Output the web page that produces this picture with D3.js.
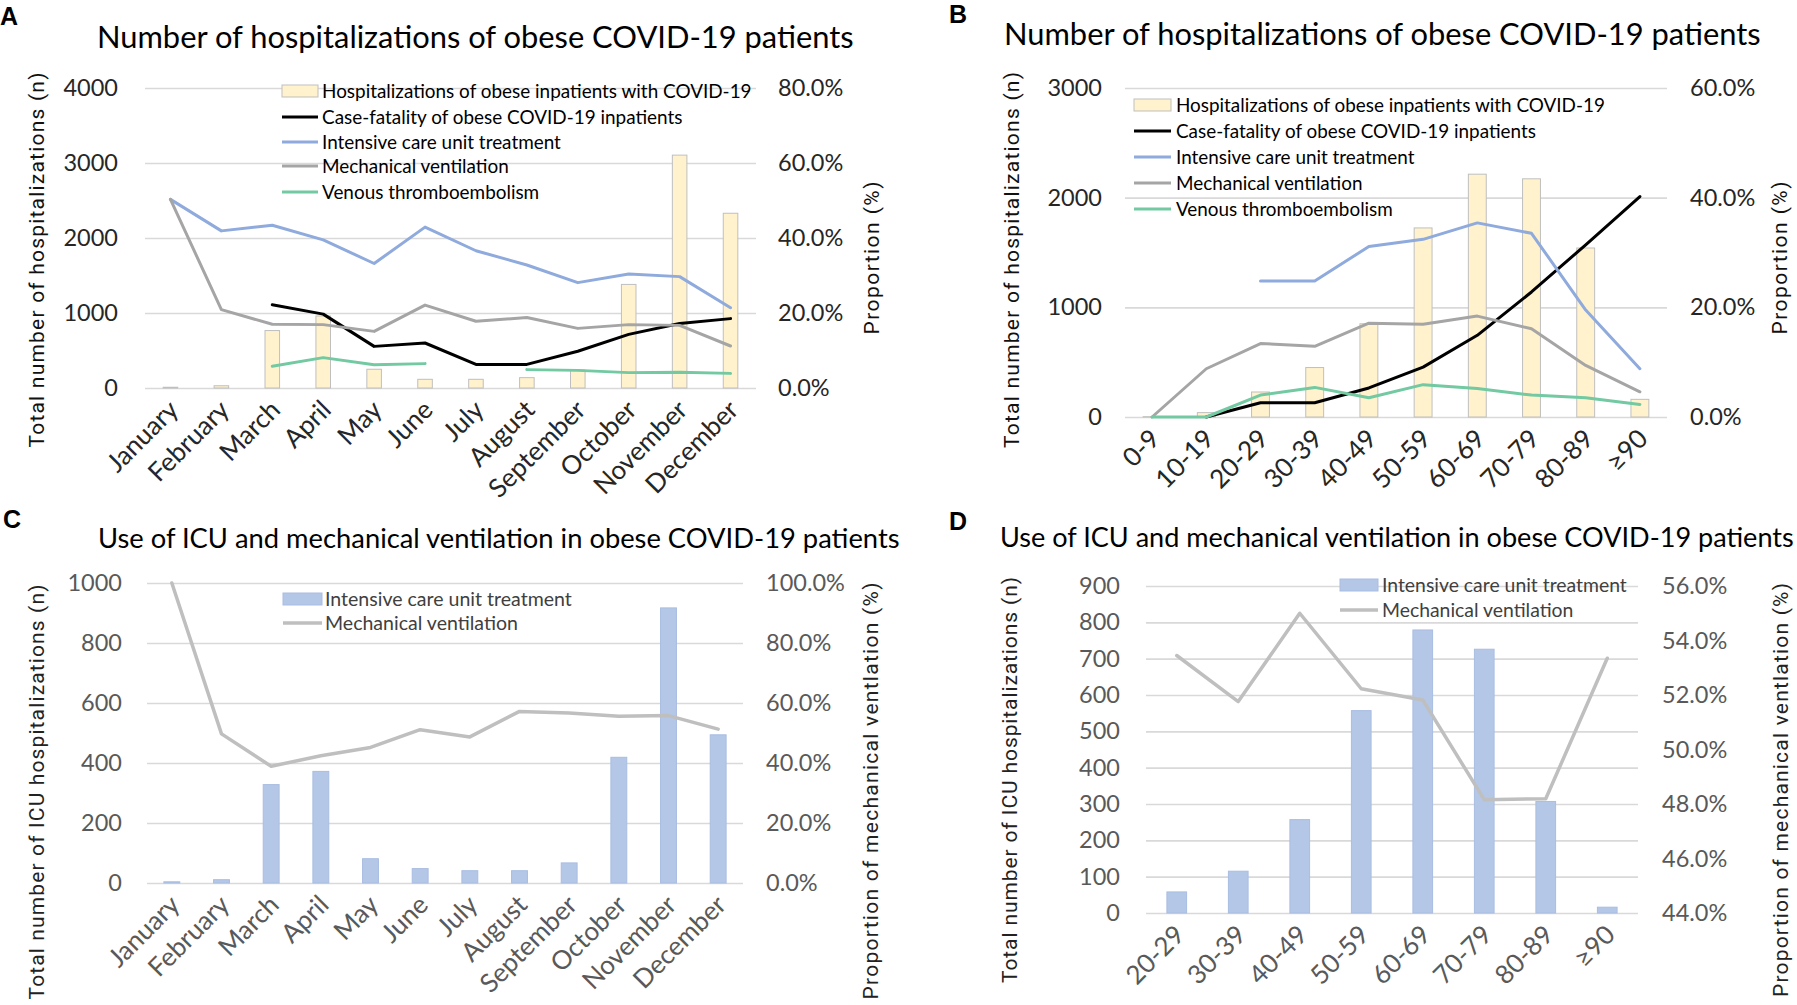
<!DOCTYPE html>
<html>
<head>
<meta charset="utf-8">
<script src="https://cdn.jsdelivr.net/npm/d3@7"></script>
<style>
	body { margin: 0; background: #fff; }
	svg { display: block; }
</style>
</head>
<body>
<div id="chart"></div>
<script>
// ---- data ----
var months = ["January", "February", "March", "April", "May", "June", "July",
	"August", "September", "October", "November", "December"];
var ageGroups = ["0-9", "10-19", "20-29", "30-39", "40-49", "50-59", "60-69", "70-79", "80-89", "\u226590"];
var ageGroupsIcu = ["20-29", "30-39", "40-49", "50-59", "60-69", "70-79", "80-89", "\u226590"];

// panel A: by month (bars = n, lines = %)
var monthHosp = [10, 30, 766, 960, 250, 116, 116, 138, 240, 1381, 3105, 2330];
var monthFatality = [null, null, 22.2, 19.7, 11.1, 12.0, 6.3, 6.3, 9.8, 14.3, 17.2, 18.5];
var monthIcu = [50.3, 41.9, 43.4, 39.5, 33.2, 42.9, 36.6, 32.8, 28.1, 30.4, 29.7, 21.4];
var monthMv = [50.3, 20.9, 17.0, 16.9, 15.1, 22.1, 17.8, 18.8, 15.9, 16.9, 16.7, 11.2];
var monthVte = [null, null, 5.8, 8.1, 6.2, 6.5, null, 4.9, 4.7, 4.1, 4.2, 3.9];

// panel B: by age group
var ageHosp = [3, 40, 228, 451, 850, 1724, 2214, 2172, 1541, 161];
var ageFatality = [null, 0, 2.6, 2.6, 5.3, 9.1, 14.9, 22.8, 31.4, 40.2];
var ageIcu = [null, null, 24.8, 24.8, 31.1, 32.4, 35.4, 33.5, 19.5, 8.8];
var ageMv = [0, 8.8, 13.4, 12.9, 17.1, 16.9, 18.4, 16.1, 9.4, 4.6];
var ageVte = [0, 0, 4.0, 5.4, 3.5, 5.9, 5.2, 4.0, 3.5, 2.3];

// panel C: ICU by month
var monthIcuCount = [4, 11, 328, 372, 81, 48, 41, 41, 67, 419, 917, 494];
var monthMvShare = [100, 49.7, 38.9, 42.4, 45.2, 51.1, 48.7, 57.2, 56.7, 55.6, 55.8, 51.3];

// panel D: ICU by age group
var ageIcuCount = [58, 115, 257, 557, 779, 726, 307, 16];
var ageMvShare = [53.45, 51.76, 55.0, 52.23, 51.82, 48.16, 48.19, 53.35];

// tick values
var ticksA = [0, 1000, 2000, 3000, 4000];
var ticksAR = [0, 20, 40, 60, 80];
var ticksB = [0, 1000, 2000, 3000];
var ticksBR = [0, 20, 40, 60];
var ticksC = [0, 200, 400, 600, 800, 1000];
var ticksCR = [0, 20, 40, 60, 80, 100];
var ticksD = [0, 100, 200, 300, 400, 500, 600, 700, 800, 900];
var ticksDR = [44, 46, 48, 50, 52, 54, 56];

// ---- styles ----
var FONT = "Lato, Carlito, 'Liberation Sans', sans-serif";
var TITLE_FONT = "Roboto, 'Noto Sans', sans-serif";
var col = {
	yellow: "#fff2cc",
	barEdge: "#bfbfbf",
	black: "#000000",
	blue: "#8faadc",
	gray: "#a5a5a5",
	green: "#72c9a2",
	icuBar: "#b4c7e7",
	lightGray: "#bfbfbf",
	grid: "#d9d9d9"
};

var svg = d3.select("#chart").append("svg")
	.attr("width", 1797)
	.attr("height", 1005)
	.style("font-family", FONT);

// scale the font of a text element so that its width hits a target
function fitText(sel, target) {
	var fs = parseFloat(sel.style("font-size"));
	var w = sel.node().getComputedTextLength();
	var nfs = fs * target / w;
	sel.style("font-size", nfs + "px");
	return nfs;
}

// keep the font size if possible and spread the letters to the target length
function spreadText(sel, target) {
	var w = sel.node().getComputedTextLength();
	if(w > target) {
		fitText(sel, target);
	} else {
		sel.attr("textLength", target).attr("lengthAdjust", "spacing");
	}
}

function drawPanel(p) {
	var g = svg.append("g");

	var x = d3.scaleBand()
		.domain(p.categories)
		.range([p.left, p.right])
		.paddingInner(p.gap)
		.paddingOuter(p.gap / 2);
	var yL = d3.scaleLinear().domain(p.leftDomain).range([p.bottom, p.top]);
	var yR = d3.scaleLinear().domain(p.rightDomain).range([p.bottom, p.top]);
	var cx = function(i) { return x(p.categories[i]) + x.bandwidth() / 2; };

	// gridlines
	g.append("g")
		.attr("transform", "translate(" + p.left + ",0)")
		.call(d3.axisLeft(yL).tickValues(p.leftTicks).tickSize(-(p.right - p.left)).tickFormat(""))
		.call(function(s) { s.select(".domain").remove(); })
		.selectAll("line")
			.attr("stroke", col.grid)
			.attr("stroke-width", 1.6);

	// left tick labels
	g.append("g")
		.attr("transform", "translate(" + p.left + ",0)")
		.call(d3.axisLeft(yL).tickValues(p.leftTicks).tickSize(0).tickPadding(p.left - p.leftLabelX)
			.tickFormat(d3.format("d")))
		.call(function(s) { s.select(".domain").remove(); })
		.selectAll("text")
			.attr("fill", p.tickColor)
			.style("font-family", FONT)
			.style("font-size", p.tickSize + "px");

	// right tick labels
	g.append("g")
		.attr("transform", "translate(" + p.right + ",0)")
		.call(d3.axisRight(yR).tickValues(p.rightTicks).tickSize(0).tickPadding(p.rightLabelX - p.right)
			.tickFormat(function(d) { return d.toFixed(1) + "%"; }))
		.call(function(s) { s.select(".domain").remove(); })
		.selectAll("text")
			.attr("fill", p.tickColor)
			.style("font-family", FONT)
			.style("font-size", p.tickSize + "px");

	// category labels, rotated
	g.append("g")
		.attr("transform", "translate(0," + p.bottom + ")")
		.call(d3.axisBottom(x).tickSize(0))
		.call(function(s) { s.select(".domain").remove(); })
		.selectAll("text")
			.attr("fill", p.tickColor)
			.attr("x", 0)
			.attr("y", 0)
			.attr("dy", "0.35em")
			.attr("text-anchor", "end")
			.attr("transform", "translate(" + p.catDx + "," + p.catDy + ") rotate(-45)")
			.style("font-family", FONT)
			.style("font-size", p.catSize + "px");

	// bars
	g.selectAll(".bar")
		.data(p.bars)
		.enter().append("rect")
			.attr("class", "bar")
			.attr("x", function(d, i) { return x(p.categories[i]); })
			.attr("y", function(d) { return yL(d); })
			.attr("width", x.bandwidth())
			.attr("height", function(d) { return yL(0) - yL(d); })
			.attr("fill", p.barFill)
			.attr("stroke", p.barStroke)
			.attr("stroke-width", 1);

	// lines
	p.lines.forEach(function(ln) {
		var line = d3.line()
			.defined(function(d) { return d !== null; })
			.x(function(d, i) { return cx(i); })
			.y(function(d) { return yR(d); });
		g.append("path")
			.datum(ln.values)
			.attr("fill", "none")
			.attr("stroke", ln.color)
			.attr("stroke-width", ln.width)
			.attr("stroke-linejoin", "round")
			.attr("stroke-linecap", "round")
			.attr("d", line);
	});

	// legend
	var lg = g.append("g");
	var legendSize = null;
	p.legend.forEach(function(item, i) {
		var yy = p.legendRows[i];
		if(item.type === "bar") {
			lg.append("rect")
				.attr("x", p.legendX0)
				.attr("y", yy - 6)
				.attr("width", p.legendX1 - p.legendX0)
				.attr("height", 12)
				.attr("fill", item.fill)
				.attr("stroke", item.stroke)
				.attr("stroke-width", 1);
		} else {
			lg.append("line")
				.attr("x1", p.legendX0)
				.attr("x2", p.legendX1)
				.attr("y1", yy)
				.attr("y2", yy)
				.attr("stroke", item.color)
				.attr("stroke-width", item.width);
		}
		var t = lg.append("text")
			.attr("x", p.legendTextX)
			.attr("y", yy)
			.attr("dy", "0.35em")
			.attr("fill", p.legendColor)
			.style("font-size", (legendSize || 18) + "px")
			.text(item.label);
		if(legendSize === null) {
			legendSize = fitText(t, p.legendWidth);
		}
	});

	// panel letter
	g.append("text")
		.attr("x", p.letterX)
		.attr("y", p.letterY)
		.attr("font-weight", "bold")
		.style("font-family", "'Liberation Sans', Arial, sans-serif")
		.style("font-size", "25px")
		.text(p.letter);

	// title
	var title = g.append("text")
		.attr("x", p.titleX)
		.attr("y", p.titleY)
		.style("font-size", "26px")
		.text(p.title);
	fitText(title, p.titleWidth);

	// axis titles
	var lt = g.append("text")
		.attr("transform", "translate(" + p.leftTitle[0] + "," + p.leftTitle[1] + ") rotate(-90)")
		.attr("text-anchor", "middle")
		.attr("dy", "0.35em")
		.attr("fill", p.axisTitleColor)
		.style("font-family", TITLE_FONT)
		.style("font-size", "21px")
		.text(p.leftTitleText);
	spreadText(lt, p.leftTitle[2]);
	var rt = g.append("text")
		.attr("transform", "translate(" + p.rightTitle[0] + "," + p.rightTitle[1] + ") rotate(-90)")
		.attr("text-anchor", "middle")
		.attr("dy", "0.35em")
		.attr("fill", p.axisTitleColor)
		.style("font-family", TITLE_FONT)
		.style("font-size", "21px")
		.text(p.rightTitleText);
	spreadText(rt, p.rightTitle[2]);
}

var legendAB = [
	{ type: "bar", label: "Hospitalizations of obese inpatients with COVID-19", fill: col.yellow, stroke: col.barEdge },
	{ type: "line", label: "Case-fatality of obese COVID-19 inpatients", color: col.black, width: 3 },
	{ type: "line", label: "Intensive care unit treatment", color: col.blue, width: 3 },
	{ type: "line", label: "Mechanical ventilation", color: col.gray, width: 3 },
	{ type: "line", label: "Venous thromboembolism", color: col.green, width: 3 }
];
var legendCD = [
	{ type: "bar", label: "Intensive care unit treatment", fill: col.icuBar, stroke: "#a9bde2" },
	{ type: "line", label: "Mechanical ventilation", color: col.lightGray, width: 3.5 }
];

// A
drawPanel({
	letter: "A", letterX: 0, letterY: 25,
	title: "Number of hospitalizations of obese COVID-19 patients",
	titleX: 97, titleY: 48, titleWidth: 757,
	categories: months, gap: 0.714,
	left: 145, right: 756, top: 88, bottom: 388,
	leftDomain: [0, 4000], rightDomain: [0, 80],
	leftTicks: ticksA, rightTicks: ticksAR,
	leftLabelX: 118, rightLabelX: 778,
	tickSize: 23.5, tickColor: "#262626",
	catSize: 26, catDx: 3, catDy: 17,
	bars: monthHosp, barFill: col.yellow, barStroke: col.barEdge,
	lines: [
		{ values: monthFatality, color: col.black, width: 3 },
		{ values: monthIcu, color: col.blue, width: 3 },
		{ values: monthMv, color: col.gray, width: 3 },
		{ values: monthVte, color: col.green, width: 3 }
	],
	legend: legendAB, legendColor: "#000",
	legendRows: [91, 117, 142, 166, 192],
	legendX0: 282, legendX1: 318, legendTextX: 322, legendWidth: 430,
	axisTitleColor: "#111",
	leftTitleText: "Total number of hospitalizations (n)", leftTitle: [37, 260, 375],
	rightTitleText: "Proportion (%)", rightTitle: [872, 258, 153]
});

// B
drawPanel({
	letter: "B", letterX: 949, letterY: 23,
	title: "Number of hospitalizations of obese COVID-19 patients",
	titleX: 1004, titleY: 45, titleWidth: 757,
	categories: ageGroups, gap: 0.67,
	left: 1125, right: 1667, top: 88, bottom: 417,
	leftDomain: [0, 3000], rightDomain: [0, 60],
	leftTicks: ticksB, rightTicks: ticksBR,
	leftLabelX: 1102, rightLabelX: 1690,
	tickSize: 23.5, tickColor: "#262626",
	catSize: 26, catDx: 3, catDy: 17,
	bars: ageHosp, barFill: col.yellow, barStroke: col.barEdge,
	lines: [
		{ values: ageFatality, color: col.black, width: 3 },
		{ values: ageIcu, color: col.blue, width: 3 },
		{ values: ageMv, color: col.gray, width: 3 },
		{ values: ageVte, color: col.green, width: 3 }
	],
	legend: legendAB, legendColor: "#000",
	legendRows: [105, 131, 157, 183, 209],
	legendX0: 1134, legendX1: 1171, legendTextX: 1176, legendWidth: 429,
	axisTitleColor: "#111",
	leftTitleText: "Total number of hospitalizations (n)", leftTitle: [1012, 260, 376],
	rightTitleText: "Proportion (%)", rightTitle: [1780, 258, 153]
});

// C
drawPanel({
	letter: "C", letterX: 3, letterY: 528,
	title: "Use of ICU and mechanical ventilation in obese COVID-19 patients",
	titleX: 98, titleY: 548, titleWidth: 802,
	categories: months, gap: 0.68,
	left: 147, right: 743, top: 583, bottom: 883,
	leftDomain: [0, 1000], rightDomain: [0, 100],
	leftTicks: ticksC, rightTicks: ticksCR,
	leftLabelX: 122, rightLabelX: 766,
	tickSize: 23.5, tickColor: "#595959",
	catSize: 26, catDx: 3, catDy: 17,
	bars: monthIcuCount, barFill: col.icuBar, barStroke: "#a9bde2",
	lines: [
		{ values: monthMvShare, color: col.lightGray, width: 3.5 }
	],
	legend: legendCD, legendColor: "#404040",
	legendRows: [599, 623],
	legendX0: 283, legendX1: 322, legendTextX: 325, legendWidth: 247,
	axisTitleColor: "#222",
	leftTitleText: "Total number of ICU hospitalizations (n)", leftTitle: [37, 792, 415],
	rightTitleText: "Proportion of mechanical ventlation (%)", rightTitle: [871, 791, 417]
});

// D
drawPanel({
	letter: "D", letterX: 949, letterY: 530,
	title: "Use of ICU and mechanical ventilation in obese COVID-19 patients",
	titleX: 1000, titleY: 547, titleWidth: 794,
	categories: ageGroupsIcu, gap: 0.68,
	left: 1146, right: 1638, top: 586, bottom: 913,
	leftDomain: [0, 900], rightDomain: [44, 56],
	leftTicks: ticksD, rightTicks: ticksDR,
	leftLabelX: 1120, rightLabelX: 1662,
	tickSize: 23.5, tickColor: "#595959",
	catSize: 26, catDx: 3, catDy: 17,
	bars: ageIcuCount, barFill: col.icuBar, barStroke: "#a9bde2",
	lines: [
		{ values: ageMvShare, color: col.lightGray, width: 3.5 }
	],
	legend: legendCD, legendColor: "#404040",
	legendRows: [585, 610],
	legendX0: 1340, legendX1: 1378, legendTextX: 1382, legendWidth: 245,
	axisTitleColor: "#222",
	leftTitleText: "Total number of ICU hospitalizations (n)", leftTitle: [1010, 780, 406],
	rightTitleText: "Proportion of mechanical ventlation (%)", rightTitle: [1781, 790, 414]
});
</script>
</body>
</html>
